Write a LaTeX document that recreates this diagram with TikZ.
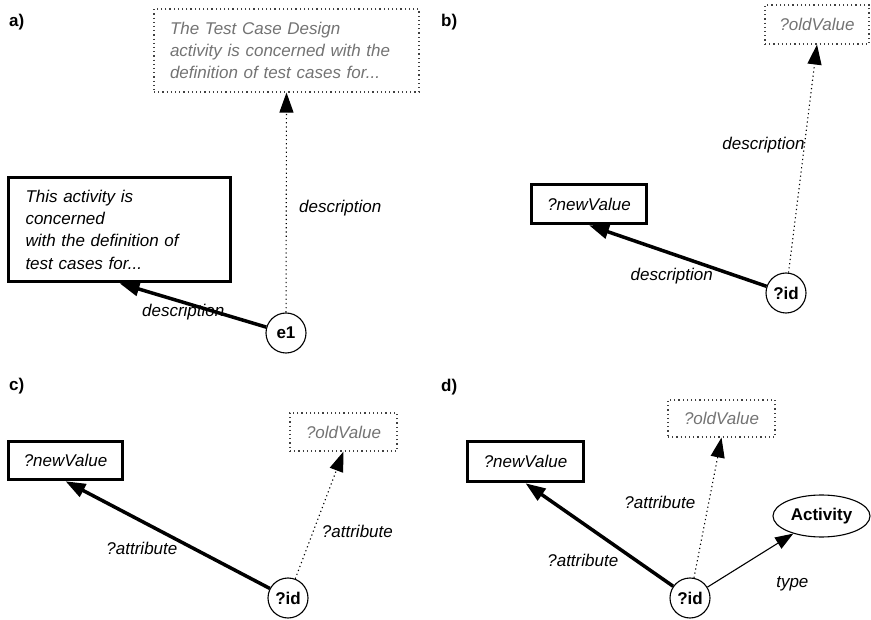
\documentclass[tikz,border=0pt]{standalone}
\usepackage{fontspec}
\setmainfont{Liberation Sans}
\usetikzlibrary{arrows.meta,shapes.geometric}

\tikzset{
  panel/.style={anchor=west, inner sep=0pt, font=\fontsize{17}{20}\selectfont\bfseries},
  newbox/.style={draw, line width=3.5pt, inner sep=0pt, font=\fontsize{17}{22.3}\selectfont\itshape},
  oldbox/.style={draw=black!75, line width=1.1pt, dash pattern=on 1.2pt off 3pt, inner sep=0pt,
    text=black!55, font=\fontsize{17}{22}\selectfont\itshape},
  res/.style={draw, circle, line width=1.1pt, minimum size=40pt, inner sep=0pt, font=\fontsize{17}{20}\selectfont\bfseries},
  cls/.style={draw, ellipse, line width=1.1pt, minimum width=97pt, minimum height=42pt, inner sep=0pt,
    font=\fontsize{17}{20}\selectfont\bfseries},
  newedge/.style={line width=3.5pt, -{Triangle[length=20pt,width=14pt]}},
  oldedge/.style={line width=1.1pt, dash pattern=on 1.2pt off 3pt, -{Triangle[length=20pt,width=14pt]}},
  typeedge/.style={line width=1.1pt, -{Triangle[length=18pt,width=13pt]}},
  prop/.style={font=\fontsize{17}{20}\selectfont\itshape, inner sep=0pt}
}

\begin{document}
\begin{tikzpicture}[x=1pt,y=-1pt]
\useasboundingbox (0,0) rectangle (871,620);

% a)
\node[panel] (pa) at (9,22) {a)};
\node[oldbox, text width=233pt, align=left, inner xsep=16pt, minimum height=83pt] (olda) at (286.5,50.5)
  {The Test Case Design\\activity is concerned with the\\definition of test cases for...};
\node[newbox, text width=188pt, align=left, inner xsep=17pt, minimum height=104pt] (newa) at (119.5,229.5)
  {This activity is\\concerned\\with the definition of\\test cases for...};
\node[res] (e1) at (286,333) {e1};
\draw[newedge] (e1) -- (newa.south) node[prop, pos=0.566, yshift=-10pt] (pa1) {description};
\draw[oldedge] (e1) -- (olda.south) node[prop, pos=0.475, xshift=54pt] (pa2) {description};

% b)
\node[panel] (pb) at (441,22) {b)};
\node[oldbox, minimum width=104pt, minimum height=39pt] (oldb) at (817,24.5) {?oldValue};
\node[newbox, minimum width=115pt, minimum height=39pt] (newb) at (589,204) {?newValue};
\node[res] (idb) at (786,293) {?id};
\draw[newedge] (idb) -- (newb.south) node[prop, pos=0.534, yshift=-22pt] (pb1) {description};
\draw[oldedge] (idb) -- (oldb.south) node[prop, pos=0.559, xshift=-41pt] (pb2) {description};

% c)
\node[panel] (pc) at (9,386) {c)};
\node[oldbox, minimum width=107pt, minimum height=38pt] (oldc) at (343.5,432) {?oldValue};
\node[newbox, minimum width=114pt, minimum height=38pt] (newc) at (65.5,460.5) {?newValue};
\node[res] (idc) at (288,598) {?id};
\draw[newedge] (idc) -- (newc.south) node[prop, pos=0.626, yshift=-27pt] (pc1) {?attribute};
\draw[oldedge] (idc) -- (oldc.south) node[prop, pos=0.376, xshift=44pt] (pc2) {?attribute};

% d)
\node[panel] (pd) at (441,387) {d)};
\node[oldbox, minimum width=107pt, minimum height=37pt] (oldd) at (721.5,418.5) {?oldValue};
\node[newbox, minimum width=116pt, minimum height=40pt] (newd) at (525.5,461.5) {?newValue};
\node[res] (idd) at (690,598) {?id};
\node[cls] (act) at (821.5,516) {Activity};
\draw[newedge] (idd) -- (newd.south) node[prop, pos=0.612, yshift=-37pt] (pd1) {?attribute};
\draw[oldedge] (idd) -- (oldd.south) node[prop, pos=0.540, xshift=-49pt] (pd2) {?attribute};
\draw[typeedge] (idd) -- (act) node[prop, pos=0.5, xshift=42pt, yshift=-23pt] (pd3) {type};
\end{tikzpicture}
\end{document}
